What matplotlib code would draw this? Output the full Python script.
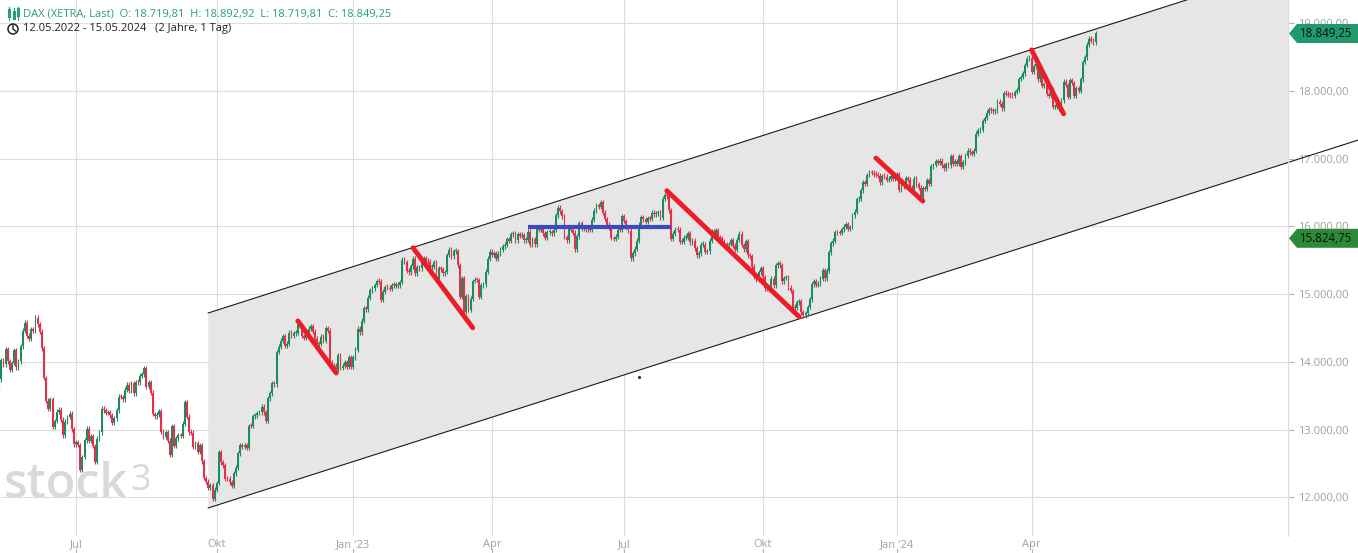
import numpy as np
import pandas as pd
import matplotlib
matplotlib.use("Agg")
import matplotlib.pyplot as plt
import matplotlib.transforms as mtransforms
from matplotlib.patches import Polygon, Circle
from matplotlib.lines import Line2D
from matplotlib.ticker import FuncFormatter

plt.rcParams['font.family'] = ['Open Sans', 'DejaVu Sans']

# DAX daily closes (XETRA trading days)
close_2022 = [
    13740, 14028, 13964, 14186, 14008, 13882, 13982, 14175, 13920, 14008, 14231, 14462, 14576, 14388,
    14340, 14485, 14460, 14654, 14556, 14446, 14199, 13762, 13427, 13304, 13448, 13038, 13126, 13266,
    13292, 13144, 12913, 13118, 13186, 13232, 13003, 12784,
    12813, 12773, 12401, 12595, 12843, 13015, 12832, 12905, 12756, 12520, 12865, 12960, 13308, 13282,
    13247, 13254, 13210, 13097, 13166, 13282, 13484,
    13480, 13449, 13588, 13663, 13574, 13688, 13535, 13701, 13695, 13796, 13817, 13910, 13627, 13697,
    13545, 13231, 13194, 13220, 13272, 12971, 12893, 12961, 12835,
    12630, 13050, 12761, 12871, 12916, 12904, 13088, 13403, 13189, 12957, 12956, 12741, 12803, 12671,
    12767, 12532, 12284, 12228, 12140, 12183, 11976, 12114,
    12209, 12670, 12517, 12471, 12273, 12272, 12220, 12172, 12356, 12438, 12649, 12765, 12741, 12767,
    12731, 13053, 13052, 13195, 13211, 13243, 13253,
    13338, 13256, 13130, 13459, 13533, 13689, 13666, 14146, 14224, 14313, 14378, 14234, 14267, 14431,
    14380, 14422, 14428, 14539, 14541, 14383, 14355, 14397,
    14490, 14529, 14447, 14343, 14261, 14264, 14371, 14306, 14497, 14460, 13987, 13894, 13943, 13885,
    14098, 13914, 13941, 13995, 13925, 14071, 13924,
]
close_2023 = [
    14069, 14182, 14491, 14436, 14610, 14792, 14775, 14948, 15058, 15087, 15134, 15187, 15182, 14920,
    15034, 15103, 15094, 15082, 15133, 15150, 15126, 15128,
    15181, 15509, 15476, 15345, 15321, 15412, 15524, 15308, 15397, 15381, 15507, 15534, 15482, 15478,
    15398, 15400, 15476, 15210, 15381, 15365,
    15305, 15328, 15578, 15654, 15560, 15631, 15633, 15428, 14959, 15233, 14735, 14968, 14768, 14934,
    15195, 15216, 15210, 14957, 15128, 15143, 15329, 15523, 15629,
    15581, 15603, 15520, 15598, 15656, 15704, 15729, 15808, 15790, 15883, 15896, 15795, 15882, 15863,
    15872, 15796, 15800, 15922,
    15726, 15815, 15734, 15961, 15952, 15955, 15896, 15834, 15914, 15917, 15897, 15952, 16163, 16275,
    16223, 16152, 15842, 15794, 15983, 15952, 15909, 15664,
    15853, 16051, 15964, 15992, 15960, 15990, 15949, 16098, 16230, 16311, 16290, 16358, 16201, 16111,
    16023, 15989, 15830, 15813, 15846, 15949, 15946, 16148,
    16081, 15989, 15938, 15529, 15603, 15673, 15791, 16024, 16141, 16105, 16068, 16125, 16109, 16204,
    16177, 16191, 16211, 16131, 16407, 16470, 16447,
    16240, 15820, 15893, 15952, 15951, 15775, 15775, 15832, 15832, 15904, 15767, 15789, 15676, 15574,
    15603, 15729, 15729, 15622, 15632, 15792, 15931, 15891, 15947,
    15840, 15824, 15772, 15741, 15719, 15740, 15800, 15715, 15654, 15805, 15893, 15727, 15664, 15781,
    15572, 15557, 15405, 15256, 15217, 15323, 15386,
    15247, 15085, 15099, 15070, 15229, 15128, 15423, 15460, 15425, 15187, 15238, 15252, 15095, 15045,
    14798, 14800, 14880, 14892, 14731, 14688, 14716, 14810,
    14923, 15144, 15189, 15136, 15152, 15229, 15352, 15234, 15345, 15615, 15748, 15787, 15919, 15902,
    15901, 15958, 15995, 16030, 15967, 15993, 16166, 16215,
    16398, 16405, 16533, 16656, 16629, 16759, 16794, 16791, 16767, 16766, 16751, 16650, 16744, 16733,
    16687, 16706, 16742, 16701, 16752,
]
close_2024 = [
    16769, 16538, 16617, 16594, 16716, 16689, 16573, 16547, 16705, 16623, 16572, 16432, 16567, 16555,
    16683, 16627, 16890, 16907, 16961, 16942, 16972, 16904,
    16859, 16918, 16904, 17033, 16922, 16963, 16927, 17037, 16880, 16946, 17046, 17118, 17093, 17068,
    17118, 17370, 17419, 17424, 17556, 17601, 17678,
    17735, 17716, 17698, 17716, 17842, 17815, 17746, 17965, 17961, 17942, 17936, 17933, 17987, 18015,
    18179, 18206, 18261, 18384, 18477, 18492,
    18283, 18367, 18403, 18175, 18318, 18077, 18097, 17954, 17930, 18026, 17766, 17770, 17837, 17737,
    17860, 18137, 18088, 17917, 18161, 18118, 17932,
    18040, 18001, 18175, 18430, 18498, 18686, 18773, 18742, 18720, 18849.25,
]
first_open = 13600

xetra_holidays = ["2022-12-26", "2023-04-07", "2023-04-10", "2023-05-01", "2023-12-25",
                  "2023-12-26", "2024-01-01", "2024-03-29", "2024-04-01", "2024-05-01"]

# drawn trend lines: start date, start price, end date, end price
red_lines = [
    ("2022-11-24", 14605, "2022-12-20", 13835),
    ("2023-02-09", 15685, "2023-03-21", 14503),
    ("2023-07-31", 16528, "2023-10-25", 14666),
    ("2023-12-14", 17010, "2024-01-18", 16375),
    ("2024-04-02", 18607, "2024-04-23", 17662),
]
blue_line = ("2023-04-28", 15990, "2023-08-02", 15990)

# trend channel anchors
channel_dates = ["2022-09-27", "2024-05-15"]
channel_upper = [14722, 18915]
channel_lower = [11842, 16035]

tick_months = [(2022, 7), (2022, 10), (2023, 1), (2023, 4), (2023, 7), (2023, 10), (2024, 1), (2024, 4)]
tick_labels = ["Jul", "Okt", "Jan '23", "Apr", "Jul", "Okt", "Jan '24", "Apr"]

header = "DAX (XETRA, Last)  O: 18.719,81  H: 18.892,92  L: 18.719,81  C: 18.849,25"
period = "12.05.2022 - 15.05.2024   (2 Jahre, 1 Tag)"
last_price = 18849.25
marker_price = 15824.75

# ---------------------------------------------------------------
days = pd.bdate_range("2022-05-12", "2024-05-15")
days = days[~days.isin(pd.to_datetime(xetra_holidays))]
closes = np.array(close_2022 + close_2023 + close_2024, dtype=float)
assert len(days) == len(closes), (len(days), len(closes))
opens = np.r_[first_open, closes[:-1]]
idx = np.arange(len(closes))


def pos(d):
    return days.get_loc(pd.Timestamp(d))


def de_fmt(v, _=None):
    s = f"{v:,.2f}"
    return s.replace(",", "X").replace(".", ",").replace("X", ".")


W, H = 1358, 553
fig = plt.figure(figsize=(W / 100, H / 100), dpi=100)
ax = fig.add_axes([0, 17 / H, 1288 / W, 536 / H])
ax.set_xlim(0.37, 604.2)
ax.set_ylim(11428, 19344)

GREEN = '#1b8c5c'
RED = '#e5304b'
GRID = '#dcdce3'

# grid / axes
ax.set_yticks(range(12000, 19001, 1000))
ax.yaxis.set_major_formatter(FuncFormatter(de_fmt))
ax.yaxis.tick_right()
ax.tick_params(axis='y', length=4, width=0.8, color='#b5b5b5', pad=3,
               labelsize=8, labelcolor='#a0a0a0')
ticks = [np.where((days.year == y) & (days.month == m))[0][0] for y, m in tick_months]
ax.set_xticks(ticks)
ax.set_xticklabels(tick_labels)
ax.tick_params(axis='x', length=0, pad=2, labelsize=8, labelcolor='#a0a0a0')
ax.grid(color=GRID, lw=0.8)
ax.set_axisbelow(True)
for side in ['top', 'left', 'bottom']:
    ax.spines[side].set_visible(False)
ax.spines['right'].set_color(GRID)
ax.spines['right'].set_linewidth(0.8)

# small tick marks below the date labels
tb = mtransforms.blended_transform_factory(ax.transData, ax.transAxes)
for t in ticks:
    ax.add_line(Line2D([t, t], [-13 / 536, -17 / 536], color='#b5b5b5', lw=0.8,
                       transform=tb, clip_on=False))

# channel
c0, c1 = pos(channel_dates[0]), pos(channel_dates[1])
slope = (channel_upper[1] - channel_upper[0]) / (c1 - c0)
xs = np.array([c0, 640.0])
up = channel_upper[0] + slope * (xs - c0)
lo = channel_lower[0] + slope * (xs - c0)
ax.fill_between(xs, lo, up, color='#e6e6e6', lw=0, zorder=1)
ax.plot(xs, up, color='#1a1a1a', lw=0.8, zorder=2)
ax.plot(xs, lo, color='#1a1a1a', lw=0.8, zorder=2, clip_on=False)

# watermark
ax.text(4 / W, 1 - 498 / H, "stock", transform=fig.transFigure, fontsize=35,
        fontweight='semibold', color='#d9d9d9', va='baseline', ha='left', zorder=0.5)
ax.text(130 / W, 1 - 490 / H, "3", transform=fig.transFigure, fontsize=26,
        color='#d9d9d9', va='baseline', ha='left', zorder=0.5)

# candles
cols = np.where(closes >= opens, GREEN, RED)
body_lo = np.minimum(opens, closes)
body_h = np.maximum(np.abs(closes - opens), 14)
wick = 35
ax.vlines(idx, body_lo - wick, body_lo + body_h + wick, colors=cols, lw=0.8, zorder=3)
ax.bar(idx, body_h, bottom=body_lo, width=0.85, color=cols, lw=0, zorder=4)

# trend lines
for d0, p0, d1, p1 in red_lines:
    ax.plot([pos(d0), pos(d1)], [p0, p1], color='#ee1c26', lw=3.5,
            solid_capstyle='round', zorder=5)
ax.plot([pos(blue_line[0]), pos(blue_line[2])], [blue_line[1], blue_line[3]],
        color='#3d49c4', lw=3.0, solid_capstyle='butt', zorder=5)
ax.plot(pos("2023-07-12"), 13777, 'o', ms=1.3, color='#333333', zorder=5)

# price tags on the right
ty = mtransforms.blended_transform_factory(ax.transAxes, ax.transData)
hh = 9.5 * 14.77
for val, colr in [(last_price, '#1f9a6c'), (marker_price, '#2b8a38')]:
    x_tip = 1 + 1 / 1288
    x_box = 1 + 9 / 1288
    x_end = W / 1288
    poly = Polygon([(x_tip, val), (x_box, val + hh), (x_end, val + hh),
                    (x_end, val - hh), (x_box, val - hh)], closed=True,
                   transform=ty, clip_on=False, color=colr, lw=0, zorder=6)
    ax.add_patch(poly)
    ax.text(1 + 12 / 1288, val, de_fmt(val), transform=ty, va='center', ha='left',
            fontsize=8.3, color='#0d0d0d', zorder=7, clip_on=False)

# header
fig.text(23 / W, 1 - 14 / H, header, fontsize=8, color='#25a270', va='center', ha='left')
fig.text(23 / W, 1 - 29 / H, period, fontsize=8, color='#222222', va='center', ha='left')

ident = mtransforms.IdentityTransform()
# candle icon
for x0, y0, y1, b0, b1 in [(9, 7, 20, 10, 16), (13.5, 8, 19, 12, 18), (18, 7, 20, 9, 15)]:
    fig.add_artist(Line2D([x0, x0], [H - y0, H - y1], color='#25a270', lw=0.8, transform=ident))
    fig.add_artist(Line2D([x0, x0], [H - b0, H - b1], color='#25a270', lw=2.2, transform=ident))
# clock icon
fig.add_artist(Circle((13, H - 29), 5, transform=ident, fill=False, ec='#222222', lw=1.1))
fig.add_artist(Line2D([13, 13, 15.5], [H - 25.5, H - 29, H - 31], color='#222222', lw=1.0,
                      transform=ident))

fig.savefig("out.png", dpi=100)
